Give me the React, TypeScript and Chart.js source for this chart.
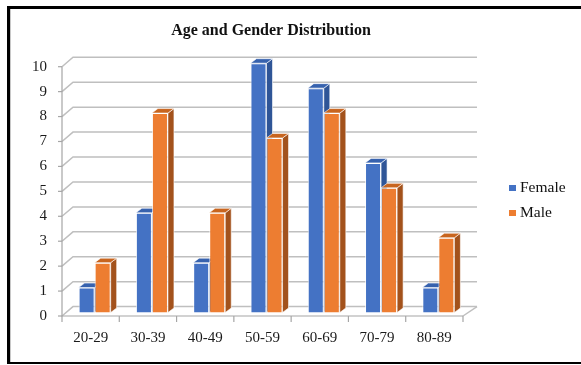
import React, { useEffect, useRef } from "react";
import { Chart, registerables } from "chart.js";

Chart.register(...registerables);

const categories = ["20-29", "30-39", "40-49", "50-59", "60-69", "70-79", "80-89"];
const femaleValues = [1, 4, 2, 10, 9, 6, 1];
const maleValues = [2, 8, 4, 7, 8, 5, 3];
const seriesLabels = ["Female", "Male"];
const yTicks = [0, 1, 2, 3, 4, 5, 6, 7, 8, 9, 10];
const titleText = "Age and Gender Distribution";

const FRONT = ["#4472C4", "#ED7D31"];
const SIDE = ["#2F5597", "#A3521C"];
const TOP = ["#3762AE", "#C8651F"];
const FONT = "'Liberation Serif', 'Times New Roman', serif";

const BAR_SHIFT_X = 4;
const BAR_SHIFT_Y = -3.5;
const BAR_DX = 6;
const BAR_DY = -4.5;
const WALL_DX = 11;
const WALL_DY = -9.4;
const WALL_END_DX = 14;

const threeD = {
  id: "threeD",
  beforeDatasetsDraw(chart: any) {
    const ctx = chart.ctx;
    const { left, right } = chart.chartArea;
    const ys = chart.scales.y;
    const xs = chart.scales.x;
    ctx.save();
    ctx.strokeStyle = "#BFBFBF";
    ctx.lineWidth = 1.5;
    yTicks.forEach((v) => {
      const y = ys.getPixelForValue(v);
      ctx.beginPath();
      ctx.moveTo(left, y);
      ctx.lineTo(left + WALL_DX, y + WALL_DY);
      ctx.lineTo(right + WALL_END_DX, y + WALL_DY);
      ctx.stroke();
    });
    const y0 = ys.getPixelForValue(0);
    const y10 = ys.getPixelForValue(10);
    ctx.beginPath();
    ctx.moveTo(right, y0);
    ctx.lineTo(right + WALL_END_DX, y0 + WALL_DY);
    ctx.stroke();
    ctx.strokeStyle = "#A6A6A6";
    ctx.lineWidth = 1.2;
    ctx.beginPath();
    ctx.moveTo(left, y10);
    ctx.lineTo(left, y0);
    ctx.lineTo(right, y0);
    ctx.stroke();
    yTicks.forEach((v) => {
      const y = ys.getPixelForValue(v);
      ctx.beginPath();
      ctx.moveTo(left - 4, y);
      ctx.lineTo(left, y);
      ctx.stroke();
    });
    const step = xs.getPixelForValue(1) - xs.getPixelForValue(0);
    for (let i = 0; i <= categories.length; i++) {
      const x = i < categories.length ? xs.getPixelForValue(i) - step / 2 : right;
      ctx.beginPath();
      ctx.moveTo(x, y0);
      ctx.lineTo(x, y0 + 6);
      ctx.stroke();
    }
    ctx.restore();
  },
  beforeDatasetDraw() {
    return false;
  },
  afterDatasetsDraw(chart: any) {
    const ctx = chart.ctx;
    chart.data.datasets.forEach((_ds: any, idx: number) => {
      const meta = chart.getDatasetMeta(idx);
      ctx.save();
      ctx.translate(BAR_SHIFT_X, BAR_SHIFT_Y);
      meta.controller.draw();
      meta.data.forEach((bar: any) => {
        const w = bar.width;
        const xl = bar.x - w / 2;
        const xr = bar.x + w / 2;
        const top = bar.y;
        const base = bar.base;
        ctx.strokeStyle = "rgba(255,255,255,0.75)";
        ctx.lineWidth = 0.8;
        ctx.fillStyle = SIDE[idx];
        ctx.beginPath();
        ctx.moveTo(xr, top);
        ctx.lineTo(xr + BAR_DX, top + BAR_DY);
        ctx.lineTo(xr + BAR_DX, base + BAR_DY);
        ctx.lineTo(xr, base);
        ctx.closePath();
        ctx.fill();
        ctx.stroke();
        ctx.fillStyle = TOP[idx];
        ctx.beginPath();
        ctx.moveTo(xl, top);
        ctx.lineTo(xl + BAR_DX, top + BAR_DY);
        ctx.lineTo(xr + BAR_DX, top + BAR_DY);
        ctx.lineTo(xr, top);
        ctx.closePath();
        ctx.fill();
        ctx.stroke();
      });
      ctx.restore();
    });
  },
  afterDraw(chart: any) {
    const ctx = chart.ctx;
    ctx.save();
    ctx.fillStyle = "#111";
    ctx.font = `bold 16px ${FONT}`;
    ctx.textAlign = "center";
    ctx.textBaseline = "middle";
    ctx.fillText(titleText, 271, 31);
    ctx.font = `15.5px ${FONT}`;
    ctx.textAlign = "left";
    chart.data.datasets.forEach((ds: any, i: number) => {
      const cy = 188 + i * 25;
      ctx.fillStyle = ds.backgroundColor;
      ctx.fillRect(509, cy - 3, 7, 6);
      ctx.fillStyle = "#111";
      ctx.fillText(ds.label, 520, cy);
    });
    ctx.fillStyle = "#000";
    ctx.fillRect(7, 6, 3, 358);
    ctx.fillRect(7, 6, 574, 3);
    ctx.fillRect(7, 362, 574, 2);
    ctx.fillStyle = "#C8C8C8";
    ctx.fillRect(10, 9, 1, 353);
    ctx.restore();
  },
};

export default function App() {
  const ref = useRef<HTMLCanvasElement | null>(null);
  useEffect(() => {
    if (!ref.current) return;
    const chart = new Chart(ref.current, {
      type: "bar",
      data: {
        labels: categories,
        datasets: [
          {
            label: seriesLabels[0],
            data: femaleValues,
            backgroundColor: FRONT[0],
            borderColor: "rgba(255,255,255,0.75)",
            borderWidth: 1,
          },
          {
            label: seriesLabels[1],
            data: maleValues,
            backgroundColor: FRONT[1],
            borderColor: "rgba(255,255,255,0.75)",
            borderWidth: 1,
          },
        ],
      },
      options: {
        responsive: false,
        animation: false,
        devicePixelRatio: 1,
        layout: { padding: { left: 0, right: 118, top: 66.7, bottom: 0 } },
        datasets: { bar: { categoryPercentage: 0.56, barPercentage: 1.0 } },
        plugins: {
          legend: { display: false },
          title: { display: false },
          tooltip: { enabled: false },
        },
        scales: {
          x: {
            grid: { display: false, drawTicks: false },
            border: { display: false },
            ticks: { padding: 13, color: "#1a1a1a", font: { family: FONT, size: 15 } },
            afterFit: (s: any) => {
              s.height = 49;
            },
          },
          y: {
            min: 0,
            max: 10,
            grid: { display: false, drawTicks: false },
            border: { display: false },
            ticks: { stepSize: 1, padding: 15, color: "#1a1a1a", font: { family: FONT, size: 15 } },
            afterFit: (s: any) => {
              s.width = 62;
            },
          },
        },
      },
      plugins: [threeD],
    });
    return () => chart.destroy();
  }, []);
  return (
    <div style={{ position: "fixed", left: 0, top: 0, width: 581, height: 365, background: "#fff" }}>
      <canvas ref={ref} width={581} height={365} />
    </div>
  );
}
